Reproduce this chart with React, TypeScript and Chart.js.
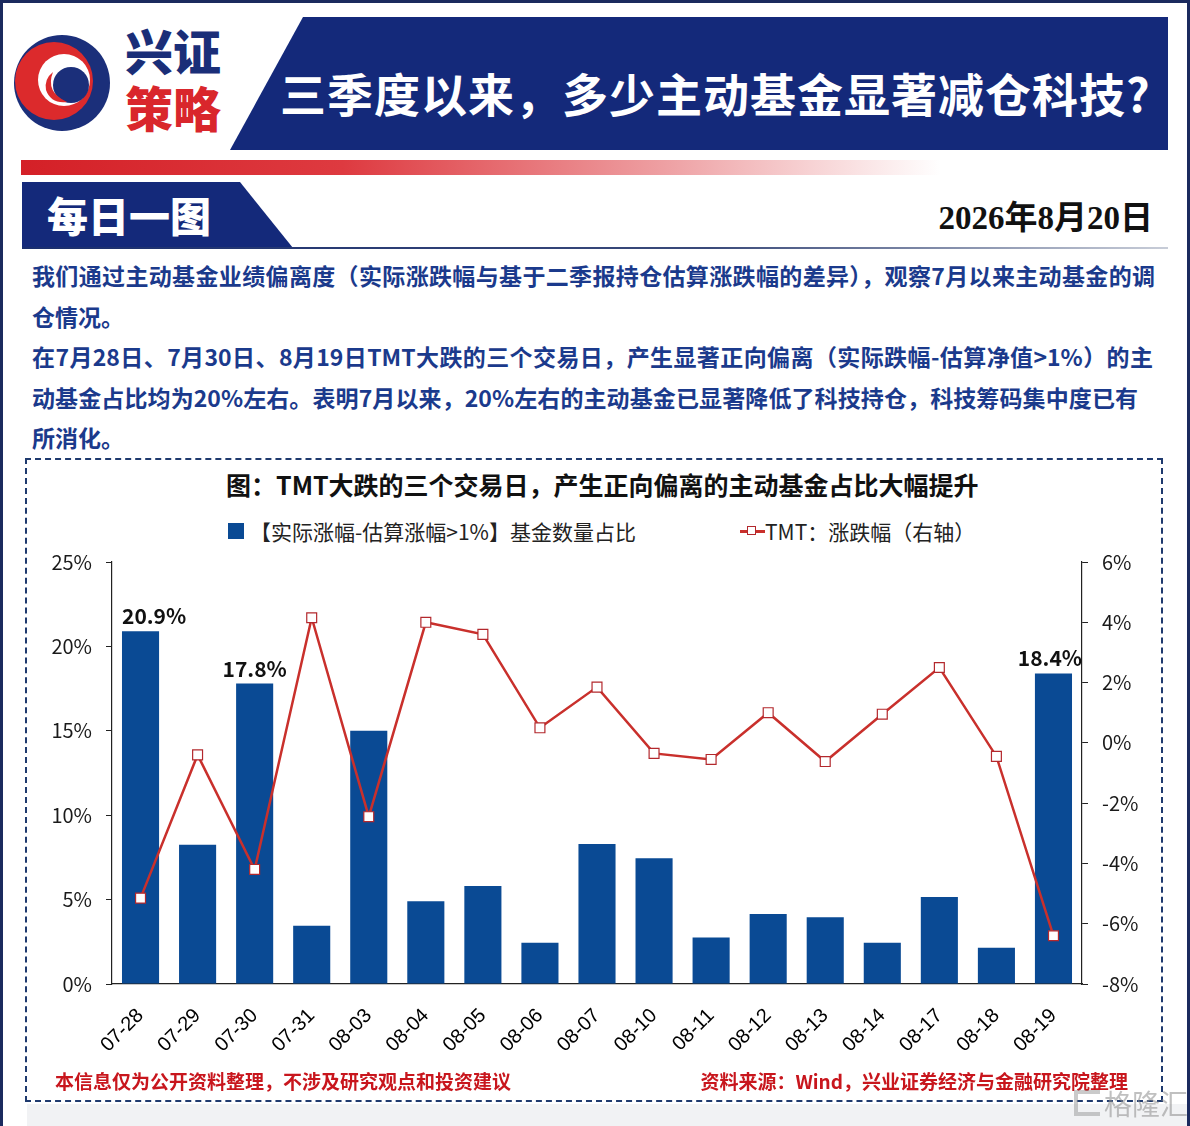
import React, { useEffect, useRef } from 'react';
import { Chart, registerables } from 'chart.js';

Chart.register(...registerables);

// ---------- data ----------
const categories = ['07-28', '07-29', '07-30', '07-31', '08-03', '08-04', '08-05', '08-06', '08-07', '08-10', '08-11', '08-12', '08-13', '08-14', '08-17', '08-18', '08-19'];
const fundShare = [20.9, 8.25, 17.8, 3.45, 15.0, 4.9, 5.8, 2.45, 8.3, 7.45, 2.75, 4.15, 3.95, 2.45, 5.15, 2.15, 18.4];
const tmtChange = [-5.15, -0.4, -4.2, 4.15, -2.45, 4.0, 3.6, 0.5, 1.85, -0.35, -0.55, 1.0, -0.62, 0.95, 2.5, -0.45, -6.4];
const labeledDates = ['07-28', '07-30', '08-19'];
const leftAxis = { min: 0, max: 25, step: 5 };
const rightAxis = { min: -8, max: 6, step: 2 };

const barLegend = '【实际涨幅-估算涨幅>1%】基金数量占比';
const lineLegend = 'TMT：涨跌幅（右轴）';
const chartTitle = '图：TMT大跌的三个交易日，产生正向偏离的主动基金占比大幅提升';
const headline = '三季度以来，多少主动基金显著减仓科技?';
const dateText = '2026年8月20日';
const paragraphLines = [
  '我们通过主动基金业绩偏离度（实际涨跌幅与基于二季报持仓估算涨跌幅的差异），观察7月以来主动基金的调',
  '仓情况。',
  '在7月28日、7月30日、8月19日TMT大跌的三个交易日，产生显著正向偏离（实际跌幅-估算净值>1%）的主',
  '动基金占比均为20%左右。表明7月以来，20%左右的主动基金已显著降低了科技持仓，科技筹码集中度已有',
  '所消化。',
];
const footLeft = '本信息仅为公开资料整理，不涉及研究观点和投资建议';
const footRight = '资料来源：Wind，兴业证券经济与金融研究院整理';

// ---------- styles ----------
const NAVY = '#14297a';
const BAR = '#0a4a94';
const LINE = '#c9302c';
const CJK = '"Noto Sans CJK SC", "Noto Sans", sans-serif';

const barLabelPlugin = {
  id: 'barLabels',
  afterDatasetsDraw(chart: any) {
    const meta = chart.getDatasetMeta(0);
    const ctx = chart.ctx;
    const area = chart.chartArea;
    ctx.save();
    ctx.font = `bold 21px ${CJK}`;
    ctx.fillStyle = '#111';
    ctx.textAlign = 'center';
    ctx.textBaseline = 'alphabetic';
    categories.forEach((c, i) => {
      if (!labeledDates.includes(c)) return;
      const el = meta.data[i];
      const text = fundShare[i].toFixed(1) + '%';
      const w = ctx.measureText(text).width;
      let x = el.x;
      x = Math.max(x, area.left + w / 2 + 10);
      x = Math.min(x, area.right - w / 2);
      ctx.fillText(text, x, el.y - 7);
    });
    ctx.restore();
  },
};

function ChartBlock() {
  const ref = useRef<HTMLCanvasElement>(null);
  useEffect(() => {
    const tickFont = { family: CJK, size: 20 };
    const chart = new Chart(ref.current as HTMLCanvasElement, {
      type: 'bar',
      data: {
        labels: categories,
        datasets: [
          {
            type: 'bar',
            label: barLegend,
            data: fundShare,
            yAxisID: 'y',
            backgroundColor: BAR,
            barPercentage: 0.65,
            categoryPercentage: 1,
            order: 2,
          } as any,
          {
            type: 'line',
            label: lineLegend,
            data: tmtChange,
            yAxisID: 'y1',
            borderColor: LINE,
            borderWidth: 2.5,
            tension: 0,
            pointStyle: 'rect',
            pointRadius: 7,
            pointBackgroundColor: '#ffffff',
            pointBorderColor: '#b3282d',
            pointBorderWidth: 1.2,
            order: 1,
          } as any,
        ],
      },
      options: {
        responsive: false,
        animation: false,
        layout: { padding: { top: 3, left: 0, right: 0, bottom: 0 } },
        plugins: { legend: { display: false }, tooltip: { enabled: false } },
        scales: {
          x: {
            grid: { display: false, drawTicks: false },
            border: { display: true, color: '#222', width: 1.2 },
            ticks: {
              color: '#000',
              font: { family: '"Liberation Sans", Arial, sans-serif', size: 20 },
              minRotation: 45,
              maxRotation: 45,
              padding: 20,
              autoSkip: false,
            },
            afterFit: (s: any) => { s.height = 94; },
          },
          y: {
            position: 'left',
            min: leftAxis.min,
            max: leftAxis.max,
            ticks: {
              stepSize: leftAxis.step,
              callback: (v: any) => v + '%',
              padding: 14,
              color: '#1a1a1a',
              font: tickFont,
            },
            grid: { drawOnChartArea: false, drawTicks: true, tickLength: 6, color: '#222' },
            border: { display: true, color: '#222', width: 1.2 },
            afterFit: (s: any) => { s.width = 82; },
          },
          y1: {
            position: 'right',
            min: rightAxis.min,
            max: rightAxis.max,
            ticks: {
              stepSize: rightAxis.step,
              callback: (v: any) => v + '%',
              padding: 14,
              color: '#1a1a1a',
              font: tickFont,
            },
            grid: { drawOnChartArea: false, drawTicks: true, tickLength: 6, color: '#222' },
            border: { display: true, color: '#222', width: 1.2 },
            afterFit: (s: any) => { s.width = 73; },
          },
        },
      } as any,
      plugins: [barLabelPlugin],
    });
    return () => chart.destroy();
  }, []);
  return (
    <canvas
      ref={ref}
      width={1125}
      height={542}
      style={{ position: 'absolute', left: 30, top: 536, width: 1125, height: 542 }}
    />
  );
}

function Logo() {
  return (
    <svg width="98" height="98" viewBox="0 0 98 98" style={{ position: 'absolute', left: 13, top: 34 }}>
      <circle cx="49" cy="49" r="48" fill="#1b2f7a" />
      <circle cx="41" cy="47" r="39" fill="#dc2a2c" />
      <circle cx="51" cy="46" r="26" fill="#ffffff" />
      <circle cx="58" cy="51" r="18" fill="#1b2f7a" />
      <path d="M40 38 Q32 58 54 68 Q38 70 33 56 Q31 45 40 38 Z" fill="#dc2a2c" />
    </svg>
  );
}

export default function App() {
  return (
    <div
      style={{
        position: 'absolute',
        left: 0,
        top: 0,
        width: 1190,
        height: 1126,
        overflow: 'hidden',
        background: '#ffffff',
        fontFamily: CJK,
        boxSizing: 'border-box',
        borderLeft: '3px solid #1b2a5e',
        borderTop: '3px solid #1b2a5e',
        borderRight: '3px solid #1b2a5e',
      }}
    >
      <div style={{ position: 'absolute', left: -3, top: -3, width: 1190, height: 1126 }}>
        {/* header */}
        <Logo />
        <div style={{ position: 'absolute', left: 125, top: 24, fontSize: 48, lineHeight: '50px', fontWeight: 900, color: '#1a2e78', letterSpacing: 0 }}>兴证</div>
        <div style={{ position: 'absolute', left: 125, top: 81, fontSize: 48, lineHeight: '50px', fontWeight: 900, color: '#d9262c' }}>策略</div>
        <svg width="1190" height="160" style={{ position: 'absolute', left: 0, top: 0 }}>
          <polygon points="303,17 1168,17 1168,150 230,150" fill={NAVY} />
        </svg>
        <div style={{ position: 'absolute', left: 280, top: 64, fontSize: 46, lineHeight: '56px', fontWeight: 700, color: '#fff', letterSpacing: 1, whiteSpace: 'nowrap' }}>{headline}</div>
        <div
          style={{
            position: 'absolute',
            left: 21,
            top: 160,
            width: 920,
            height: 15,
            background: 'linear-gradient(to right, #d42027 0%, #de3a40 35%, #eea0a3 70%, rgba(255,255,255,0) 100%)',
          }}
        />
        <svg width="320" height="80" style={{ position: 'absolute', left: 0, top: 175 }}>
          <polygon points="22,7 240,7 293,73 22,73" fill={NAVY} />
        </svg>
        <div style={{ position: 'absolute', left: 47, top: 190, fontSize: 41, lineHeight: '48px', fontWeight: 900, color: '#fff', whiteSpace: 'nowrap' }}>每日一图</div>
        <div
          style={{
            position: 'absolute',
            left: 22,
            top: 247,
            width: 1146,
            height: 2,
            background: 'linear-gradient(to right, #1a2e6e 0%, #3a4a7a 60%, #c8cdd8 100%)',
          }}
        />
        <div style={{ position: 'absolute', right: 1190 - 1153, top: 197, fontSize: 33, lineHeight: '42px', fontWeight: 700, color: '#111', fontFamily: '"Liberation Serif", "Noto Sans CJK SC", serif', whiteSpace: 'nowrap' }}>{dateText}</div>

        {/* paragraph */}
        {paragraphLines.map((line, i) => {
          const widths = [1123, 0, 1121, 1106, 0];
          const justify = widths[i] > 0;
          return (
            <div
              key={i}
              style={{
                position: 'absolute',
                left: 32,
                top: 255 + i * 40.5,
                width: justify ? widths[i] : 'auto',
                height: 40,
                lineHeight: '40px',
                fontSize: 23,
                fontWeight: 700,
                color: '#1b3a8c',
                whiteSpace: 'nowrap',
                textAlign: justify ? 'justify' : 'left',
                textAlignLast: justify ? 'justify' : 'left',
              } as any}
            >
              {line}
            </div>
          );
        })}

        {/* chart frame */}
        <div style={{ position: 'absolute', left: 25, top: 458, width: 1138, height: 644, boxSizing: 'border-box', border: '2px dashed #1f3a6e' }} />
        <div style={{ position: 'absolute', left: 27, top: 1104, width: 1160, height: 22, background: '#f1f2f4' }} />

        <div style={{ position: 'absolute', left: 226, top: 469, fontSize: 25, lineHeight: '30px', fontWeight: 700, color: '#111', whiteSpace: 'nowrap' }}>{chartTitle}</div>

        {/* legend */}
        <div style={{ position: 'absolute', left: 228, top: 523, width: 16, height: 16, background: BAR }} />
        <div style={{ position: 'absolute', left: 250, top: 516, fontSize: 21, lineHeight: '30px', color: '#222', whiteSpace: 'nowrap' }}>{barLegend}</div>
        <div style={{ position: 'absolute', left: 740, top: 530, width: 25, height: 2.5, background: LINE }} />
        <div style={{ position: 'absolute', left: 747, top: 526, width: 9, height: 9, boxSizing: 'border-box', background: '#fff', border: '1.2px solid #b3282d' }} />
        <div style={{ position: 'absolute', left: 765, top: 516, fontSize: 21, lineHeight: '30px', color: '#222', whiteSpace: 'nowrap' }}>{lineLegend}</div>

        <ChartBlock />

        {/* footer */}
        <div style={{ position: 'absolute', left: 55, top: 1069, fontSize: 19, lineHeight: '24px', fontWeight: 700, color: '#c8161d', whiteSpace: 'nowrap' }}>{footLeft}</div>
        <div style={{ position: 'absolute', right: 1190 - 1128, top: 1069, fontSize: 19, lineHeight: '24px', fontWeight: 700, color: '#c8161d', whiteSpace: 'nowrap' }}>{footRight}</div>

        {/* watermark */}
        <div style={{ position: 'absolute', left: 1074, top: 1090, width: 26, height: 26, boxSizing: 'border-box', border: '4px solid rgba(150,150,150,0.5)', borderRight: 'none' }} />
        <div style={{ position: 'absolute', left: 1104, top: 1085, fontSize: 28, lineHeight: '36px', color: 'rgba(140,140,140,0.55)', whiteSpace: 'nowrap' }}>格隆汇</div>
      </div>
    </div>
  );
}
